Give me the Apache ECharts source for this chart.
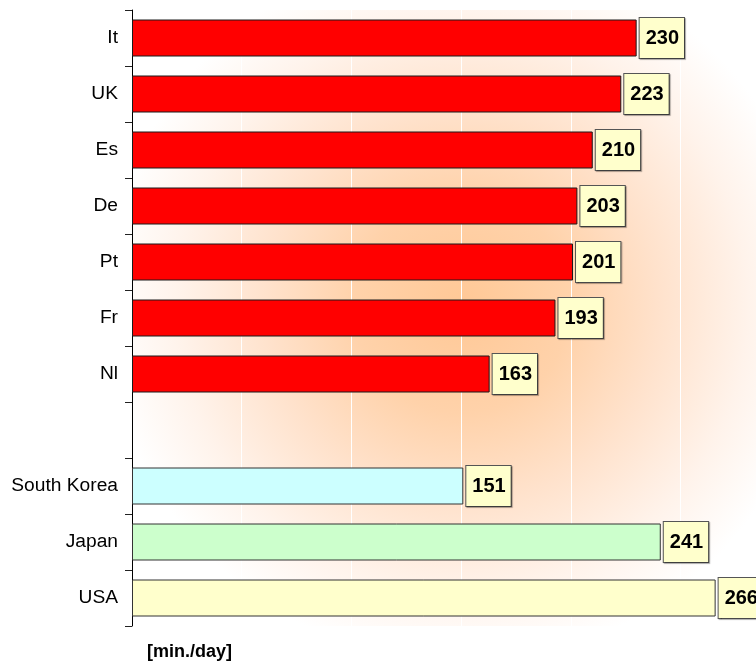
<!DOCTYPE html>
<html>
<head>
<meta charset="utf-8">
<script src="https://cdn.jsdelivr.net/npm/echarts@6/dist/echarts.min.js"></script>
<style>
  html, body { margin: 0; padding: 0; background: #ffffff; }
  #chart { width: 756px; height: 666px; }
</style>
</head>
<body>
<div id="chart"></div>
<script>
// Daily TV viewing time per country, minutes per day
const categories = ['It', 'UK', 'Es', 'De', 'Pt', 'Fr', 'Nl', '', 'South Korea', 'Japan', 'USA'];
const minutesPerDay = [230, 223, 210, 203, 201, 193, 163, null, 151, 241, 266];
const barColors = ['#FF0000', '#FF0000', '#FF0000', '#FF0000', '#FF0000', '#FF0000', '#FF0000',
                   '#FFFFFF', '#CCFFFF', '#CCFFCC', '#FFFFCC'];
const unitLabel = '[min./day]';

const FONT = "'Liberation Sans', Arial, sans-serif";

const chart = echarts.init(document.getElementById('chart'), null, { renderer: 'canvas' });

const barData = minutesPerDay.map((v, i) => ({
  value: v,
  itemStyle: {
    color: barColors[i],
    borderColor: barColors[i] === '#FF0000' ? '#1a1a1a' : '#333333',
    borderWidth: 1
  }
}));

chart.setOption({
  animation: false,
  backgroundColor: '#ffffff',
  grid: {
    left: 132,
    top: 10,
    width: 624,
    height: 616,
    show: true,
    borderWidth: 0,
    // soft peach glow behind the plot
    backgroundColor: {
      type: 'radial',
      x: 0.53,
      y: 0.48,
      r: 0.58,
      colorStops: [
        { offset: 0, color: '#FFC896' },
        { offset: 0.3, color: '#FFD2AA' },
        { offset: 0.55, color: '#FFE2CC' },
        { offset: 0.8, color: '#FFF3EB' },
        { offset: 1, color: '#FFFFFF' }
      ]
    }
  },
  xAxis: {
    type: 'value',
    min: 0,
    max: 284.4,
    interval: 50,
    axisLine: { show: false },
    axisTick: { show: false },
    axisLabel: { show: false },
    splitLine: { show: true, lineStyle: { color: '#FFFFFF', width: 1 } }
  },
  yAxis: {
    type: 'category',
    inverse: true,
    data: categories,
    axisLine: { show: true, lineStyle: { color: '#000000', width: 1 } },
    axisTick: { show: true, length: 7, alignWithLabel: false, lineStyle: { color: '#222222' } },
    axisLabel: { color: '#000000', fontSize: 19.2, fontFamily: FONT, margin: 14 },
    splitLine: { show: false }
  },
  series: [{
    type: 'bar',
    data: barData,
    barWidth: 37,
    label: {
      show: true,
      position: 'right',
      distance: 3,
      formatter: p => (p.value == null ? '' : String(p.value)),
      color: '#000000',
      fontFamily: FONT,
      fontWeight: 'bold',
      fontSize: 20,
      lineHeight: 20,
      backgroundColor: '#FFFFCC',
      borderColor: '#555555',
      borderWidth: 1,
      padding: [10, 5, 10, 6],
      shadowColor: 'rgba(0,0,0,0.3)',
      shadowOffsetX: 1,
      shadowOffsetY: 1,
      shadowBlur: 1
    }
  }],
  graphic: [{
    type: 'text',
    left: 147,
    top: 643,
    style: {
      text: unitLabel,
      fill: '#000000',
      font: "bold 18px 'Liberation Sans', Arial, sans-serif"
    }
  }]
});
</script>
</body>
</html>
